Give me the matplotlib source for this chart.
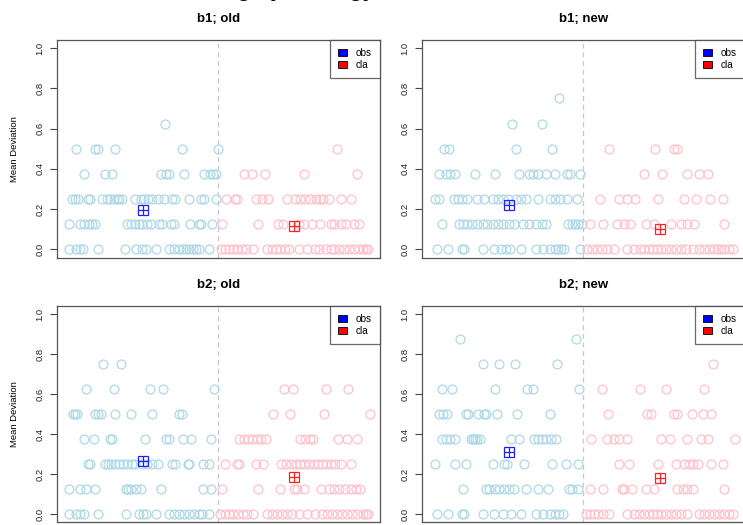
import numpy as np
import matplotlib
matplotlib.use("Agg")
from matplotlib import pyplot as plt
from matplotlib.patches import Patch

plt.rcParams['font.family'] = ['Liberation Sans', 'DejaVu Sans']

# participant position (x) per deviation level
b1_old_obs = {
    0.625: [52],
    0.5: [4.5, 15, 16.5, 25.6, 61, 80.3],
    0.375: [9, 20, 24, 50, 52.5, 54, 62, 73, 76, 77.5, 79],
    0.25: [2.7, 4.1, 5.5, 10.9, 12.2, 18.4, 21.1, 22.9, 24.7, 26.5, 27.7, 29.2, 36.3, 39, 40.8,
           43.1, 45.3, 48.5, 51.6, 56, 57.5, 64.6, 71.2, 73, 79],
    0.125: [1.1, 6.8, 9.1, 11.3, 13.4, 14.9, 31.9, 33.7, 36, 38.1, 39.9, 42.6, 44.4, 48.9, 50.3,
            55.1, 56.9, 65.3, 70, 71.2, 77.1],
    0.0: [1.1, 4.5, 6.8, 8.6, 16.3, 30.6, 36.7, 39.9, 41.7, 47.1, 54.2, 56.9, 59.6, 61.4, 63.2,
          65, 67.1, 68.5, 70, 75.7],
}
b1_old_cla = {
    0.5: [143.4],
    0.375: [94, 98.6, 105.3, 126.2, 154.5],
    0.25: [84.3, 89.1, 90.2, 100.4, 103.5, 107, 117.2, 121.4, 124, 126.7, 129.4, 132.6, 134.8,
           136.2, 139.3, 145.5, 150.9],
    0.125: [82.5, 101.7, 112.4, 115.1, 123.2, 125.9, 130.3, 134.8, 140.2, 142, 145.5, 148.2,
            152.7, 155.4],
    0.0: [82, 83.8, 86.1, 88.2, 90.4, 92.8, 95.1, 99, 106.1, 108.8, 111.1, 113.3, 116, 118.3,
          123.2, 127.6, 132.1, 133.9, 137.5, 140.2, 142, 144.7, 147.4, 150.1, 152.7, 155.4,
          157.2, 159, 160],
}
b1_new_obs = {
    0.75: [67.7],
    0.625: [42.6, 58.7],
    0.5: [6.3, 9, 44.8, 63.9],
    0.375: [3.6, 7.5, 9.8, 12.2, 22.9, 33.7, 46.2, 51.6, 53.7, 56.4, 60.9, 65.3, 71.6, 73.4, 78.8],
    0.25: [1.8, 3.9, 11.6, 14, 16.1, 18.8, 24.2, 27.7, 32.2, 34.9, 37.6, 40.3, 44.8, 47.4, 49.8,
           56.4, 62.7, 65.3, 68, 71.6, 77.3],
    0.125: [5.4, 14.3, 16.5, 18.8, 21.5, 24.2, 26.9, 29.5, 32.2, 34.9, 37.6, 40.8, 43.9, 48.3,
            51.6, 55.5, 58.7, 60.9, 72.5, 74.3, 76.1, 77.9, 79.7],
    0.0: [2.7, 8.6, 15.8, 17, 26.9, 33.1, 36.7, 39.4, 41.5, 47.4, 55.5, 59.1, 62.7, 65.3, 67.1,
          68.9, 70.2, 78.8],
}
b1_new_cla = {
    0.5: [94, 118.7, 128.9, 130.7],
    0.375: [112.8, 122.3, 135.7, 142.3, 146.8],
    0.25: [89.5, 99.3, 103.8, 108.3, 120.3, 134.3, 140.5, 148.2, 154.8],
    0.125: [84.1, 91.3, 98.5, 102, 105.6, 113.7, 118.1, 127.1, 132.5, 136, 139.6, 155.7],
    0.0: [82.3, 85, 87.7, 90.4, 93.1, 96.7, 103.8, 107.4, 110.6, 112.8, 115.5, 117.8, 119.6,
          121.7, 124.4, 127.1, 129.8, 132.5, 135.1, 138.7, 142.3, 145, 147.6, 150.3, 152.1,
          153.9, 155.7, 158.4, 160.2],
}
b2_old_obs = {
    0.75: [19, 28.6],
    0.625: [9.8, 24.7, 44, 50.7, 78],
    0.5: [3.2, 4.1, 5, 14.9, 16.3, 18.1, 25.6, 34, 45.3, 59.6, 61],
    0.375: [9.1, 14, 22.9, 23.9, 41.2, 52.4, 53.9, 61.8, 65.9, 76.6],
    0.25: [10.9, 12.2, 19.9, 21.7, 23.4, 25.6, 27.4, 29.5, 31.9, 34.2, 36.3, 39.9, 42.6, 45.3,
           48.5, 56, 57.5, 64.1, 65, 72.5, 75.4],
    0.125: [1.1, 6.8, 9.8, 14.9, 31, 32.4, 33.7, 36.7, 39, 50.1, 72.1, 76.6],
    0.0: [1.1, 4.5, 6.8, 9.1, 16.3, 31, 38.1, 40.3, 41.7, 47.4, 54.2, 56.9, 59.6, 62.3, 65,
          67.7, 70, 71.8, 75.7],
}
b2_old_cla = {
    0.625: [115.6, 120.1, 137.5, 149.5],
    0.5: [109.7, 118.7, 136.6, 161.1],
    0.375: [91.5, 94, 96.3, 98.6, 101.1, 103.4, 105.8, 124, 126.7, 129.4, 131.1, 144.1, 149.1,
            154.5],
    0.25: [84.1, 90.4, 91.5, 100.4, 104.4, 113.7, 116.5, 119, 121.9, 124, 126.2, 128.5, 131.2,
           133.4, 135.7, 138, 140.2, 142.8, 145.5, 150.9],
    0.125: [82.5, 101.7, 113.3, 120.8, 122.3, 126.2, 135.1, 139.3, 142, 144.7, 147.7, 150.9,
            153.6, 155.9],
    0.0: [81.4, 83.8, 86.1, 88.2, 90.9, 93.3, 95.8, 99, 106.1, 108.8, 111.5, 114.2, 116.9,
          119.6, 123.2, 127.6, 132.1, 135.7, 138.3, 141, 143.7, 146.4, 149.1, 151.8, 154.5,
          157.2, 159, 160.2],
}
b2_new_obs = {
    0.875: [14.7, 76.6],
    0.75: [26.9, 35.8, 44.4, 66.6],
    0.625: [5.4, 10.4, 33.7, 50.7, 53.7, 78.4],
    0.5: [3.6, 5.7, 8.1, 17.9, 19.3, 24.7, 27.7, 28.6, 34.4, 45.3, 62.7],
    0.375: [5.4, 7.5, 9.8, 12.2, 20.6, 21.8, 22.9, 24.2, 25.4, 42.1, 46.5, 54.1, 56.4, 58.7,
            60.9, 63.5, 65.9],
    0.25: [1.8, 12.2, 17.9, 32.2, 38.5, 39.7, 48.7, 63.9, 71.2, 77.5],
    0.125: [16.5, 28.6, 30.4, 33.7, 35.8, 38.5, 40.8, 43.9, 50.1, 56.4, 61.8, 73, 74.3, 77.9],
    0.0: [2.7, 8.6, 15.8, 17, 26.9, 33.1, 37.6, 42.1, 47.4, 55.5, 59.1, 62.7, 65.3, 67.7, 69.5],
}
b2_new_cla = {
    0.75: [149.5],
    0.625: [90.4, 110.6, 124.8, 144.6],
    0.5: [93.6, 114.6, 116.7, 128.9, 130.7, 138.2, 144.1, 148.6],
    0.375: [84.5, 93.1, 96.7, 99.3, 103.8, 122.1, 126.7, 135.7, 143.2, 146.8, 161.1],
    0.25: [99.3, 104.7, 120.3, 129.8, 134.3, 136.9, 138.7, 141.4, 148.6, 154.8],
    0.125: [84.1, 91.3, 101.1, 102.4, 106.5, 113.7, 118.1, 130.7, 133.4, 136, 138.7, 155.7],
    0.0: [82, 84.1, 86.3, 88.6, 91.3, 94, 103.8, 107.4, 110.1, 112.8, 115.5, 117.8, 119.9,
          122.1, 124.4, 127.1, 129.8, 132.5, 136, 142.3, 145, 147.7, 150.3, 153, 155.7, 158.4,
          160.2],
}

# group means (x, y)
mean_obs = {"b1; old": (40.5, 0.198), "b1; new": (40.8, 0.22),
            "b2; old": (40.3, 0.267), "b2; new": (40.8, 0.312)}
mean_cla = {"b1; old": (120.8, 0.117), "b1; new": (121.2, 0.104),
            "b2; old": (120.8, 0.183), "b2; new": (121.2, 0.178)}

titles = ["b1; old", "b1; new", "b2; old", "b2; new"]
obs_sets = [b1_old_obs, b1_new_obs, b2_old_obs, b2_new_obs]
cla_sets = [b1_old_cla, b1_new_cla, b2_old_cla, b2_new_cla]
split_at = 80.5
yticks = [0.0, 0.2, 0.4, 0.6, 0.8, 1.0]


def flatten(d):
    xs, ys = [], []
    for lev, vals in d.items():
        xs += vals
        ys += [lev] * len(vals)
    return np.array(xs), np.array(ys)


fig = plt.figure(figsize=(7.43, 5.25), dpi=100)

# axes rectangles (left, bottom, width, height)
boxes = [[0.0767, 0.5095, 0.4347, 0.4143],
         [0.5676, 0.5095, 0.4347, 0.4143],
         [0.0767, 0.0057, 0.4347, 0.4114],
         [0.5676, 0.0057, 0.4347, 0.4114]]

for i in range(4):
    ax = fig.add_axes(boxes[i])
    ax.axvline(split_at, color="#c8c8c8", lw=0.9, ls=(0, (4, 3)), zorder=1)

    x, y = flatten(obs_sets[i])
    ax.plot(x, y, 'o', ms=6.4, mfc='none', mec='#add8e6', mew=0.9, zorder=2)
    x, y = flatten(cla_sets[i])
    ax.plot(x, y, 'o', ms=6.4, mfc='none', mec='#ffc0cb', mew=0.9, zorder=2)

    for m, c in [(mean_obs[titles[i]], '#2020ff'), (mean_cla[titles[i]], '#ff2020')]:
        ax.plot(m[0], m[1], 's', ms=7, mfc='none', mec=c, mew=0.9, zorder=3)
        ax.plot(m[0], m[1], '+', ms=7, mec=c, mew=0.9, zorder=3)

    ax.set_xlim(-5.5, 166.5)
    ax.set_ylim(-0.04, 1.04)
    ax.set_xticks([])
    ax.set_yticks(yticks)
    ax.set_yticklabels(["%.1f" % t for t in yticks], rotation=90, va='center', fontsize=6.8)
    ax.tick_params(axis='y', length=5, width=0.8, color='#444444', pad=4, labelcolor='#222222')
    for s in ax.spines.values():
        s.set_color('#555555')
        s.set_linewidth(0.9)
    ax.set_title(titles[i], fontsize=9.5, fontweight='bold', pad=13)
    if i % 2 == 0:
        ax.set_ylabel("Mean Deviation", fontsize=6.8, labelpad=12)

    handles = [Patch(facecolor='blue', edgecolor='black', lw=0.6, label='obs'),
               Patch(facecolor='red', edgecolor='black', lw=0.6, label='cla')]
    leg = ax.legend(handles=handles, loc='upper right', bbox_to_anchor=(1, 1),
                    borderaxespad=0, fancybox=False, fontsize=7.2, handlelength=0.9,
                    handleheight=0.6, borderpad=0.8, labelspacing=0.2, handletextpad=0.9)
    leg.get_frame().set_edgecolor('#444444')
    leg.get_frame().set_linewidth(0.9)

# outer title, cut off at the top edge just like the source image
fig.text(0.211, 1.007, "Learning by strategy", fontsize=16, fontweight='bold',
         ha='left', va='baseline')

plt.savefig("out.png", dpi=100)
